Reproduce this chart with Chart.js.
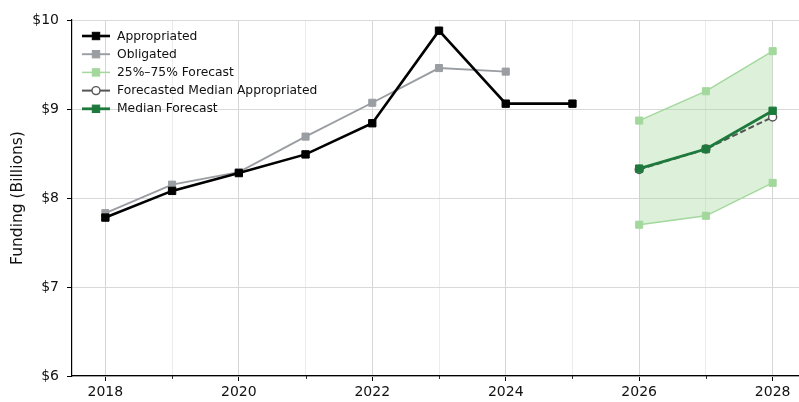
<!DOCTYPE html>
<html>
<head>
<meta charset="utf-8">
<script src="https://cdn.jsdelivr.net/npm/chart.js@4/dist/chart.umd.min.js"></script>
<style>
  html, body { margin: 0; padding: 0; background: #fff; overflow: hidden; }
  #wrap { width: 799px; height: 402px; }
</style>
</head>
<body>
<div id="wrap"><canvas id="c" width="799" height="402"></canvas></div>
<script>
// Historical funding (billions of dollars)
const histYears      = [2018, 2019, 2020, 2021, 2022, 2023, 2024, 2025];
const appropriated   = [7.78, 8.08, 8.28, 8.49, 8.84, 9.88, 9.06, 9.06];
const obligatedYears = [2018, 2019, 2020, 2021, 2022, 2023, 2024];
const obligated      = [7.83, 8.15, 8.29, 8.69, 9.07, 9.46, 9.42];

// Forecast years and quantiles
const forecastYears       = [2026, 2027, 2028];
const forecastP25         = [7.70, 7.80, 8.17];
const forecastP75         = [8.87, 9.20, 9.65];
const medianForecast      = [8.33, 8.55, 8.98];
const medianAppropriated  = [8.32, 8.55, 8.91];

// Axis ticks
const yTicks = [6, 7, 8, 9, 10];
const xTicks = [2018, 2019, 2020, 2021, 2022, 2023, 2024, 2025, 2026, 2027, 2028];

const pts = (xs, ys) => xs.map((x, i) => ({ x, y: ys[i] }));

const FONT = "'DejaVu Sans', sans-serif";
const C_APP = '#000000';
const C_OBL = '#9a9da2';
const C_Q   = '#a3d89d';
const C_MED = '#1d7a3c';
const C_FMA = '#555555';

const datasets = [
  { label: 'Appropriated', data: pts(histYears, appropriated),
    borderColor: C_APP, backgroundColor: C_APP, borderWidth: 2.6,
    pointStyle: 'rect', pointRadius: 5.2, pointBorderWidth: 1, order: 1,
    legendLine: 2.6 },
  { label: 'Obligated', data: pts(obligatedYears, obligated),
    borderColor: C_OBL, backgroundColor: C_OBL, borderWidth: 1.9,
    pointStyle: 'rect', pointRadius: 5, pointBorderWidth: 1, order: 2,
    legendLine: 1.9 },
  { label: '25%\u201375% Forecast', data: pts(forecastYears, forecastP25),
    borderColor: C_Q, backgroundColor: C_Q, borderWidth: 1.5,
    pointStyle: 'rect', pointRadius: 5, pointBorderWidth: 1, order: 5,
    legendLine: 1.5 },
  { label: '_p75', data: pts(forecastYears, forecastP75),
    borderColor: C_Q, backgroundColor: C_Q, borderWidth: 1.5,
    pointStyle: 'rect', pointRadius: 5, pointBorderWidth: 1, order: 5,
    fill: { target: 2, above: 'rgba(163,216,157,0.38)', below: 'rgba(163,216,157,0.38)' } },
  { label: 'Forecasted Median Appropriated', data: pts(forecastYears, medianAppropriated),
    borderColor: C_FMA, backgroundColor: '#ffffff', borderWidth: 2, borderDash: [6, 3],
    pointStyle: 'circle', pointRadius: 4, pointBorderWidth: 1.4, order: 4,
    legendLine: 2 },
  { label: 'Median Forecast', data: pts(forecastYears, medianForecast),
    borderColor: C_MED, backgroundColor: C_MED, borderWidth: 2.8,
    pointStyle: 'rect', pointRadius: 5.2, pointBorderWidth: 1, order: 3,
    legendLine: 2.8 }
];

// Line + marker legend drawn in the upper-left of the plot
const lineLegend = {
  id: 'lineLegend',
  afterDraw(chart) {
    const ctx = chart.ctx;
    const x0 = chart.chartArea.left + 10, x1 = x0 + 28, tx = x1 + 7;
    let y = chart.chartArea.top + 16;
    ctx.save();
    ctx.font = '12.3px ' + FONT;
    ctx.textBaseline = 'middle';
    chart.data.datasets.forEach(ds => {
      if (ds.label.startsWith('_')) return;
      ctx.setLineDash([]);
      ctx.strokeStyle = ds.borderColor;
      ctx.lineWidth = ds.legendLine;
      ctx.beginPath(); ctx.moveTo(x0, y); ctx.lineTo(x1, y); ctx.stroke();
      const mx = (x0 + x1) / 2;
      ctx.lineWidth = ds.pointBorderWidth;
      ctx.fillStyle = ds.backgroundColor;
      ctx.strokeStyle = ds.borderColor;
      if (ds.pointStyle === 'circle') {
        ctx.beginPath(); ctx.arc(mx, y, 4, 0, Math.PI * 2); ctx.fill(); ctx.stroke();
      } else {
        ctx.fillRect(mx - 3.7, y - 3.7, 7.4, 7.4);
        ctx.strokeRect(mx - 3.7, y - 3.7, 7.4, 7.4);
      }
      ctx.fillStyle = '#111';
      ctx.fillText(ds.label, tx, y + 0.5);
      y += 18.2;
    });
    ctx.restore();
  }
};

// Short minor tick marks on the odd years
const minorTicks = {
  id: 'minorTicks',
  afterDraw(chart) {
    const s = chart.scales.x, ctx = chart.ctx, y0 = chart.chartArea.bottom;
    ctx.save();
    ctx.strokeStyle = '#000';
    ctx.lineWidth = 0.8;
    xTicks.filter(v => v % 2 !== 0).forEach(v => {
      const px = Math.round(s.getPixelForValue(v)) + 0.5;
      ctx.beginPath(); ctx.moveTo(px, y0); ctx.lineTo(px, y0 + 3); ctx.stroke();
    });
    ctx.restore();
  }
};

new Chart(document.getElementById('c'), {
  type: 'line',
  data: { datasets },
  plugins: [lineLegend, minorTicks],
  options: {
    responsive: false,
    animation: false,
    layout: { autoPadding: false, padding: { top: 20, left: 0, right: 0, bottom: 0 } },
    plugins: { legend: { display: false }, tooltip: { enabled: false } },
    elements: { line: { tension: 0 } },
    scales: {
      x: {
        type: 'linear', min: 2017.5, max: 2028.395,
        afterBuildTicks: s => { s.ticks = xTicks.map(v => ({ value: v })); },
        afterFit: s => { s.height = 26; s.paddingLeft = 0; s.paddingRight = 0; },
        border: { color: '#000', width: 1.2 },
        grid: {
          color: c => (c.tick && c.tick.value % 2 === 0) ? '#d6d6d6' : '#ececec',
          lineWidth: 1, tickLength: 5,
          tickColor: c => (c.tick && c.tick.value % 2 === 0) ? '#000' : 'rgba(0,0,0,0)',
          drawTicks: true
        },
        ticks: {
          color: '#111', font: { family: FONT, size: 14 }, padding: 3,
          maxRotation: 0, autoSkip: false,
          callback: v => (v % 2 === 0 ? String(v) : '')
        }
      },
      y: {
        min: 6, max: 10,
        afterBuildTicks: s => { s.ticks = yTicks.map(v => ({ value: v })); },
        afterFit: s => { s.width = 72; },
        border: { color: '#000', width: 1.2 },
        grid: { color: '#d9d9d9', lineWidth: 1, tickLength: 5, tickColor: '#000' },
        ticks: {
          color: '#111', font: { family: FONT, size: 14 }, padding: 8,
          callback: v => '$' + v
        },
        title: {
          display: true, text: 'Funding (Billions)', color: '#111',
          font: { family: FONT, size: 15.5 }, padding: { top: 9, bottom: 0 }
        }
      }
    }
  }
});
</script>
</body>
</html>
